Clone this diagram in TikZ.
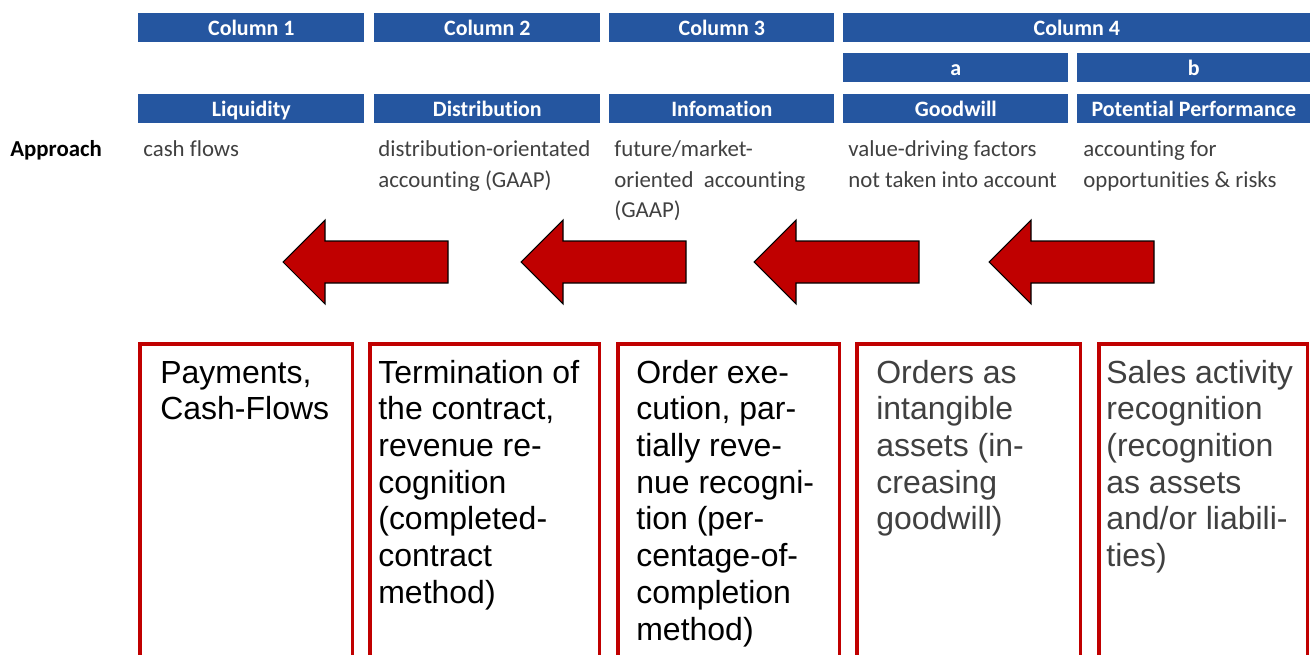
\documentclass[tikz,border=0pt]{standalone}
\usepackage{fontspec}
\setmainfont{Liberation Sans}
\newfontfamily\calfont[Ligatures=NoCommon]{Carlito}
\usepackage{tikz}
\usetikzlibrary{calc, positioning}
\definecolor{HeadBlue}{HTML}{2556A0}
\definecolor{BoxRed}{HTML}{C00000}
\definecolor{TxtGray}{HTML}{404040}

% Top-aligned lines: baseline of the node is the first line
\newcommand{\cellT}[1]{\begin{tabular}[t]{@{}l@{}}#1\end{tabular}}

\begin{document}
\begin{tikzpicture}[x=0.02cm, y=-0.02cm]

% Page frame
\useasboundingbox (0,0) rectangle (1314,655);
\clip (0,0) rectangle (1314,655);

% Header bar styles
\tikzset{hB/.style={fill = HeadBlue, text = white, inner sep = 0pt, anchor = north west,
    minimum height = 0.58cm, text height = 10pt, text depth = 1.2pt,
    font = \calfont\bfseries\fontsize{12.5}{14}\selectfont}}
\tikzset{apT/.style={anchor = base west, inner sep = 0pt, text = TxtGray,
    font = \calfont\fontsize{13}{17.1}\selectfont}}

% Box styles
\tikzset{oB/.style={draw = BoxRed, line width = 2pt, anchor = north west, minimum height = 6.6cm}}
\tikzset{oT/.style={anchor = base west, inner sep = 0pt,
    font = \fontsize{18.2}{20.9}\selectfont}}
\tikzset{arrS/.style={fill = BoxRed, draw = black, line width = 0.6pt, line join = miter}}

% Column headers
\node (c1) [hB, minimum width = 4.52cm] at (138,13) {Column 1};
\node (c2) [hB, minimum width = 4.52cm] at (374,13) {Column 2};
\node (c3) [hB, minimum width = 4.50cm] at (609,13) {Column 3};
\node (c4) [hB, minimum width = 9.34cm] at (843,13) {Column 4};

\node (c4a) [hB, minimum width = 4.50cm] at (843,53) {a};
\node (c4b) [hB, minimum width = 4.66cm] at (1077,53) {b};

\node (h1) [hB, minimum width = 4.52cm] at (138,94) {Liquidity};
\node (h2) [hB, minimum width = 4.52cm] at (374,94) {Distribution};
\node (h3) [hB, minimum width = 4.50cm] at (609,94) {Infomation};
\node (h4) [hB, minimum width = 4.50cm] at (843,94) {Goodwill};
\node (h5) [hB, minimum width = 4.66cm] at (1077,94) {Potential Performance};

% Approach row
\node (ap) [apT, text = black, font = \calfont\bfseries\fontsize{13}{17.1}\selectfont] at (10,157) {Approach};
\node (ap1) [apT] at (143,157) {cash flows};
\node (ap2) [apT] at (378,157) {\cellT{distribution-orientated\\accounting (GAAP)}};
\node (ap3) [apT] at (614,157) {\cellT{future/market-\\oriented\ \ accounting\\(GAAP)}};
\node (ap4) [apT] at (848,157) {\cellT{value-driving factors\\not taken into account}};
\node (ap5) [apT] at (1083,157) {\cellT{accounting for\\opportunities \& risks}};

% Block arrows
\foreach \tx in {283, 521, 754, 989}
    \draw[arrS] (\tx,262) -- ++(42,-42) -- ++(0,21) -- ++(123,0) -- ++(0,42) -- ++(-123,0) -- ++(0,21) -- cycle;

% Boxes
\node (o1) [oB, minimum width = 4.26cm] at (138,342) {};
\node (o2) [oB, minimum width = 4.60cm] at (368,342) {};
\node (o3) [oB, minimum width = 4.44cm] at (616,342) {};
\node (o4) [oB, minimum width = 4.48cm] at (855,342) {};
\node (o5) [oB, minimum width = 4.18cm] at (1097,342) {};

% Box texts
\node (t1) [oT] at (160,383) {\cellT{Payments,\\Cash-Flows}};
\node (t2) [oT] at (378,383) {\cellT{Termination of\\the contract,\\revenue re-\\cognition\\(completed-\\contract\\method)}};
\node (t3) [oT] at (636,383) {\cellT{Order exe-\\cution, par-\\tially reve-\\nue recogni-\\tion (per-\\centage-of-\\completion\\method)}};
\node (t4) [oT, text = TxtGray] at (876,383) {\cellT{Orders as\\intangible\\assets (in-\\creasing\\goodwill)}};
\node (t5) [oT, text = TxtGray] at (1106,383) {\cellT{Sales activity\\recognition\\(recognition\\as assets\\and/or liabili-\\ties)}};

\end{tikzpicture}
\end{document}
